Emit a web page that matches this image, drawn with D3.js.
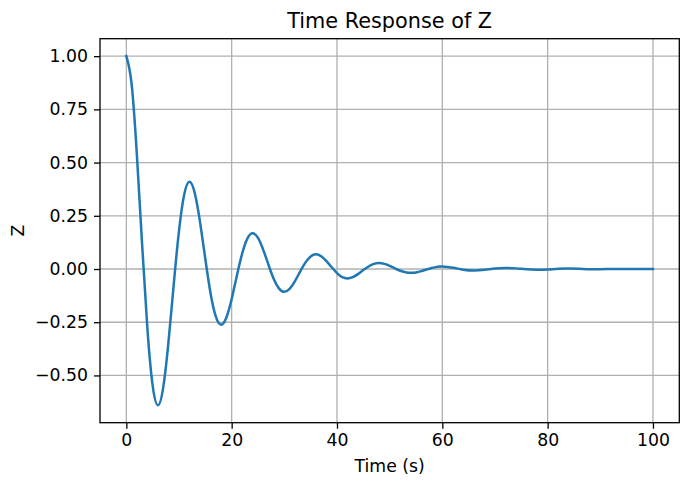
<!DOCTYPE html>
<html>
<head>
<meta charset="utf-8">
<script src="https://cdn.jsdelivr.net/npm/d3@7"></script>
<style>
  body { margin: 0; background: #fff; }
  svg text { font-family: "DejaVu Sans", sans-serif; fill: #000; }
</style>
</head>
<body>
<div id="chart"></div>
<script>
// time (s): 1 s steps up to 60, then 2 s steps
var timeValues = [0,1,2,3,4,5,6,7,8,9,10,11,12,13,14,15,16,17,18,19,20,
    21,22,23,24,25,26,27,28,29,30,31,32,33,34,35,36,37,38,39,40,
    41,42,43,44,45,46,47,48,49,50,51,52,53,54,55,56,57,58,59,60,
    62,64,66,68,70,72,74,76,78,80,82,84,86,88,90,92,94,96,98,100];
var zValues = [1.000,0.870,0.537,0.114,-0.280,-0.548,-0.640,-0.557,-0.344,-0.073,0.179,
    0.351,0.410,0.356,0.220,0.047,-0.115,-0.224,-0.262,-0.228,-0.141,
    -0.030,0.073,0.144,0.168,0.146,0.090,0.019,-0.047,-0.092,-0.107,
    -0.093,-0.058,-0.012,0.030,0.059,0.069,0.060,0.037,0.008,-0.019,
    -0.038,-0.044,-0.038,-0.024,-0.005,0.012,0.024,0.028,0.024,0.015,
    0.003,-0.008,-0.015,-0.018,-0.016,-0.010,-0.002,0.005,0.010,0.012,
    0.006,-0.003,-0.007,-0.004,0.002,0.005,0.003,-0.001,-0.003,-0.002,
    0.001,0.002,0.001,-0.001,-0.001,0.000,0.000,0.000,0.000,0.000];
var xTicks = [0, 20, 40, 60, 80, 100];
var yTicks = [-0.5, -0.25, 0, 0.25, 0.5, 0.75, 1.0];

var width = 680, height = 483;
var margin = {top: 38.7, right: 0.7, bottom: 60.3, left: 100};
var innerW = width - margin.left - margin.right;
var innerH = height - margin.top - margin.bottom;

var svg = d3.select("#chart").append("svg")
    .attr("width", width)
    .attr("height", height);

var g = svg.append("g")
    .attr("transform", "translate(" + margin.left + "," + margin.top + ")");

// matplotlib style 5% padding on the data range
var zMin = d3.min(zValues), zMax = d3.max(zValues);
var pad = (zMax - zMin) * 0.05;
var x = d3.scaleLinear().domain([-5, 105]).range([0, innerW]);
var y = d3.scaleLinear().domain([zMin - pad, zMax + pad]).range([innerH, 0]);

// grid
g.append("g").selectAll("line").data(xTicks).enter().append("line")
    .attr("x1", function(d) { return x(d); })
    .attr("x2", function(d) { return x(d); })
    .attr("y1", 0).attr("y2", innerH)
    .attr("stroke", "#b0b0b0").attr("stroke-width", 1.3);
g.append("g").selectAll("line").data(yTicks).enter().append("line")
    .attr("y1", function(d) { return y(d); })
    .attr("y2", function(d) { return y(d); })
    .attr("x1", 0).attr("x2", innerW)
    .attr("stroke", "#b0b0b0").attr("stroke-width", 1.3);

// the response curve
var points = timeValues.map(function(t, i) { return [t, zValues[i]]; });
var line = d3.line()
    .x(function(d) { return x(d[0]); })
    .y(function(d) { return y(d[1]); })
    .curve(d3.curveNatural);
g.append("path")
    .datum(points)
    .attr("d", line)
    .attr("fill", "none")
    .attr("stroke", "#1f77b4")
    .attr("stroke-width", 2.5)
    .attr("stroke-linejoin", "round")
    .attr("stroke-linecap", "square");

// axes
var xAxis = g.append("g")
    .attr("transform", "translate(0," + innerH + ")")
    .call(d3.axisBottom(x).tickValues(xTicks).tickSize(6).tickPadding(5).tickFormat(d3.format("d")));
var yAxis = g.append("g")
    .call(d3.axisLeft(y).tickValues(yTicks).tickSize(6).tickPadding(6).tickFormat(d3.format(".2f")));
[xAxis, yAxis].forEach(function(a) {
    a.select(".domain").remove();
    a.selectAll("line").attr("stroke", "#000").attr("stroke-width", 1.3);
    a.selectAll("text").style("font-size", "17.3px").style("font-family", "DejaVu Sans");
});

// spines
g.append("rect")
    .attr("x", 0).attr("y", 0)
    .attr("width", innerW).attr("height", innerH)
    .attr("fill", "none")
    .attr("stroke", "#000")
    .attr("stroke-width", 1.3);

// labels
svg.append("text")
    .attr("x", margin.left + innerW / 2)
    .attr("y", 27.7)
    .attr("text-anchor", "middle")
    .style("font-size", "20.8px")
    .text("Time Response of Z");

svg.append("text")
    .attr("x", margin.left + innerW / 2)
    .attr("y", 471.7)
    .attr("text-anchor", "middle")
    .style("font-size", "17.3px")
    .text("Time (s)");

svg.append("text")
    .attr("transform", "translate(24," + (margin.top + innerH / 2) + ") rotate(-90)")
    .attr("text-anchor", "middle")
    .style("font-size", "17.3px")
    .text("Z");
</script>
</body>
</html>
